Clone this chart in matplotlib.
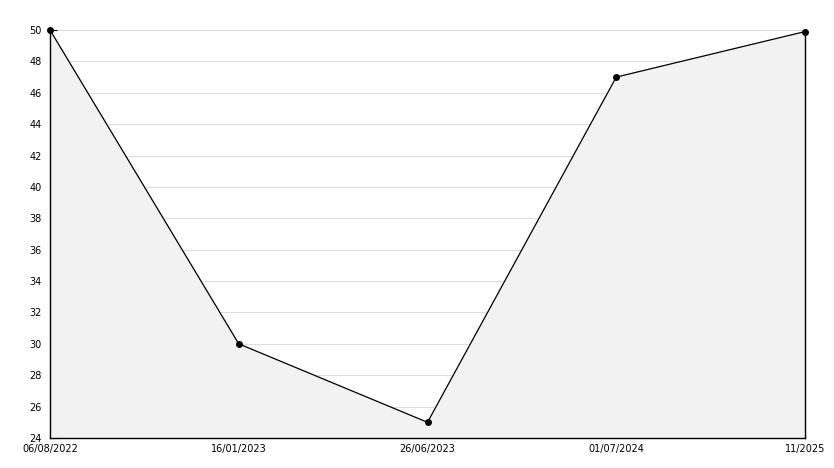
import matplotlib
matplotlib.use("Agg")
import matplotlib.pyplot as plt
from matplotlib.ticker import MultipleLocator

labels = ["06/08/2022", "16/01/2023", "26/06/2023", "01/07/2024", "11/2025"]
values = [50, 30, 25, 47, 49.9]
ymin, ymax = 24, 50

fig = plt.figure(figsize=(8.34, 4.68), dpi=100)
ax = fig.add_axes([50/834, 30/468, 755/834, 408/468])
x = list(range(len(values)))

ax.fill_between(x, values, ymin, color="#f2f2f2", zorder=1)
ax.plot(x, values, color="black", lw=0.9, zorder=3)
ax.plot(x, values, color="black", lw=0, marker="o", ms=4, zorder=5, clip_on=False)

ax.set_xlim(0, len(values) - 1)
ax.set_ylim(ymin, ymax)
ax.set_xticks(x)
ax.set_xticklabels(labels)
ax.yaxis.set_major_locator(MultipleLocator(2))
ax.yaxis.set_minor_locator(MultipleLocator(1))
ax.grid(axis="y", which="major", color="#dddddd", lw=0.8, zorder=0)
ax.set_axisbelow(True)

ax.spines["top"].set_visible(False)
ax.spines["right"].set_bounds(ymin, values[-1])
for s in ["left", "bottom", "right"]:
    ax.spines[s].set_color("black")
    ax.spines[s].set_linewidth(1)
    ax.spines[s].set_zorder(4)

ax.tick_params(axis="y", which="major", direction="in", length=5, labelsize=7, pad=6, right=False)
ax.tick_params(axis="y", which="minor", direction="in", length=3, right=False)
ax.tick_params(axis="x", which="major", direction="in", length=5, labelsize=7, pad=4)
ax.tick_params(axis="x", which="minor", bottom=False)

fig.savefig("out.png", dpi=100)
